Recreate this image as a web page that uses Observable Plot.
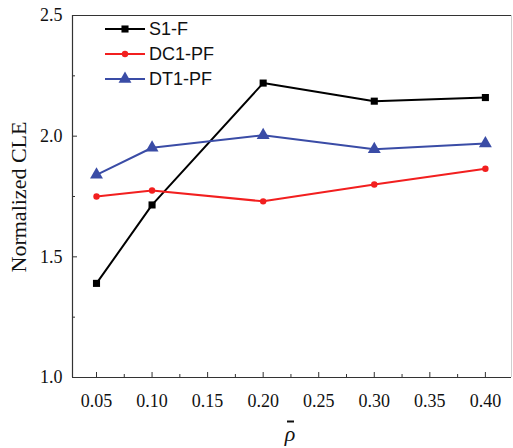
<!DOCTYPE html>
<html>
<head>
<meta charset="utf-8">
<script src="https://cdn.jsdelivr.net/npm/d3@7"></script>
<script src="https://cdn.jsdelivr.net/npm/@observablehq/plot@0.6"></script>
<style>
  html, body { margin: 0; padding: 0; background: #fff; }
  #chart { position: relative; width: 513px; height: 448px; }
</style>
</head>
<body>
<div id="chart"></div>
<script>
const rho = [0.05, 0.10, 0.20, 0.30, 0.40];
const s1F = [1.39, 1.715, 2.22, 2.145, 2.16];
const dc1PF = [1.75, 1.775, 1.73, 1.80, 1.865];
const dt1PF = [1.84, 1.952, 2.004, 1.946, 1.97];
const seriesNames = ["S1-F", "DC1-PF", "DT1-PF"];
const seriesColors = ["#000000", "#f21f1f", "#3a4ca6"];
const seriesSymbols = ["square", "circle", "triangle"];
const seriesR = [4, 3.2, 4.8];
const xTicks = [0.05, 0.10, 0.15, 0.20, 0.25, 0.30, 0.35, 0.40];
const xMinor = [0.075, 0.125, 0.175, 0.225, 0.275, 0.325, 0.375];
const yTicks = [1.0, 1.5, 2.0, 2.5];
const yMinor = [1.25, 1.75, 2.25];
const xDomain = [0.0284, 0.4235];
const yDomain = [1.0, 2.5];

const seriesValues = [s1F, dc1PF, dt1PF];
const data = [];
seriesNames.forEach((name, i) => {
  rho.forEach((r, j) => data.push({series: name, rho: r, cle: seriesValues[i][j]}));
});

const serif = "'Liberation Serif', 'Times New Roman', serif";
const sans = "'Liberation Sans', Arial, sans-serif";

const marks = [
  Plot.ruleY([yDomain[1]], {stroke: "#333", strokeWidth: 1.2}),
  Plot.ruleX([xDomain[1]], {stroke: "#cfcfcf", strokeWidth: 1}),
  Plot.axisY({ticks: yTicks, tickFormat: d3.format(".1f"), tickSize: -5, tickPadding: 15, stroke: "#333",
    fontSize: 18, fontFamily: serif, fill: "#111", label: null}),
  Plot.axisY({ticks: yMinor, tickSize: -3, tickFormat: () => "", label: null, stroke: "#333"}),
  Plot.axisX({ticks: xTicks, tickFormat: d3.format(".2f"), tickSize: -5, tickPadding: 22, stroke: "#333",
    fontSize: 18, fontFamily: serif, fill: "#111", label: null}),
  Plot.axisX({ticks: xMinor, tickSize: -3, tickFormat: () => "", label: null, stroke: "#333"}),
  Plot.ruleX([xDomain[0]], {stroke: "#333", strokeWidth: 1.2}),
  Plot.ruleY([yDomain[0]], {stroke: "#333", strokeWidth: 1.2}),
];
seriesNames.forEach((name, i) => {
  const d = data.filter(p => p.series === name);
  marks.push(Plot.line(d, {x: "rho", y: "cle", stroke: seriesColors[i], strokeWidth: 2}));
  marks.push(Plot.dot(d, {x: "rho", y: "cle", symbol: seriesSymbols[i], r: seriesR[i], fill: seriesColors[i], stroke: "none"}));
});

const plot = Plot.plot({
  width: 513,
  height: 448,
  marginTop: 15,
  marginBottom: 71,
  marginLeft: 72,
  marginRight: 2,
  style: {background: "#fff", fontFamily: serif},
  x: {domain: xDomain, label: null},
  y: {domain: yDomain, label: null},
  marks
});

const svg = d3.select(plot);

// y-axis label
svg.append("text")
  .attr("transform", "translate(18,197) rotate(-90)")
  .attr("text-anchor", "middle").attr("dy", "0.36em")
  .attr("font-family", serif).attr("font-size", 22).attr("fill", "#111")
  .text("Normalized CLE");

// x-axis label: rho with bar
svg.append("text")
  .attr("x", 290).attr("y", 441)
  .attr("text-anchor", "middle")
  .attr("font-family", serif).attr("font-style", "italic").attr("font-size", 22)
  .attr("fill", "#111")
  .text("ρ");
svg.append("line")
  .attr("x1", 287).attr("x2", 294).attr("y1", 421.5).attr("y2", 421.5)
  .attr("stroke", "#111").attr("stroke-width", 2);

// legend
const leg = svg.append("g");
seriesNames.forEach((name, i) => {
  const y = 29 + i * 25;
  leg.append("line").attr("x1", 105).attr("x2", 145).attr("y1", y).attr("y2", y)
    .attr("stroke", seriesColors[i]).attr("stroke-width", 2);
  leg.append("path")
    .attr("transform", `translate(125,${y})`)
    .attr("d", d3.symbol(i === 0 ? d3.symbolSquare : i === 1 ? d3.symbolCircle : d3.symbolTriangle, Math.PI * seriesR[i] * seriesR[i])())
    .attr("fill", seriesColors[i]);
  leg.append("text").attr("x", 149).attr("y", y).attr("dy", "0.36em")
    .attr("text-anchor", "start")
    .attr("font-family", sans).attr("font-size", 18).attr("fill", "#111")
    .text(name);
});

document.getElementById("chart").appendChild(plot);
</script>
</body>
</html>
